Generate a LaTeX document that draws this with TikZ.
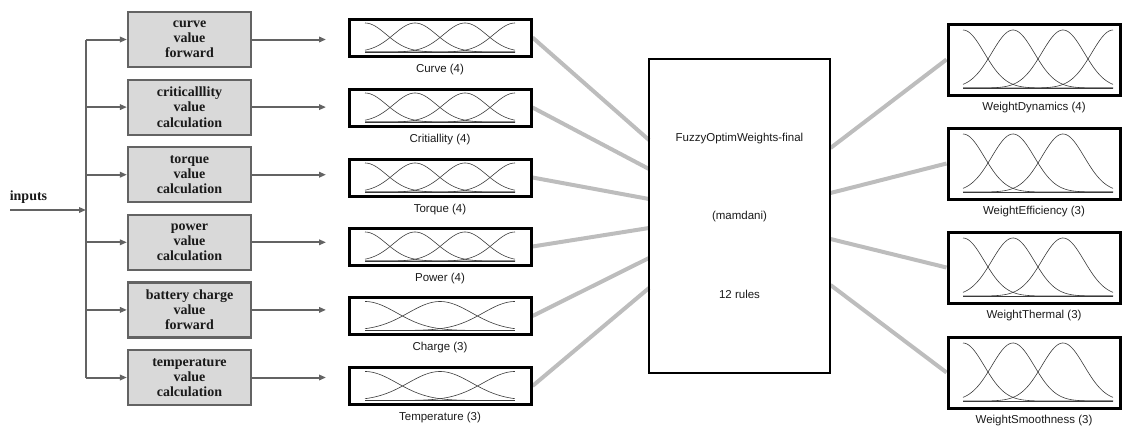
\documentclass[tikz,border=0pt]{standalone}
\usepackage{fontspec}
\setmainfont{Liberation Serif}
\newfontfamily\labelfont{Liberation Sans}
\usetikzlibrary{arrows.meta,calc,backgrounds}

\definecolor{procfill}{HTML}{D9D9D9}
\definecolor{edgegray}{HTML}{636363}
\definecolor{linkgray}{HTML}{BDBDBD}
\definecolor{curvegray}{HTML}{3A3A3A}
\definecolor{textdark}{HTML}{1A1A1A}

\tikzset{
  procbox/.style={draw=edgegray, fill=procfill, line width=2.2pt,
    minimum width=123pt, minimum height=55pt, inner sep=0pt,
    align=center, font=\fontsize{14}{15.2}\selectfont\bfseries, text=textdark},
  mfbox/.style={draw=black, line width=3pt, minimum width=182pt,
    minimum height=37pt, inner sep=0pt},
  outbox/.style={draw=black, line width=3pt, minimum width=172pt,
    minimum height=71pt, inner sep=0pt},
  fisbox/.style={draw=black, line width=2.6pt, minimum width=181pt,
    minimum height=314pt, inner sep=0pt},
  varlabel/.style={font=\labelfont\fontsize{11.5}{13}\selectfont, text=textdark, inner sep=0pt},
  feed/.style={draw=edgegray, line width=2pt, -{Triangle[length=7pt,width=5.5pt]}},
  trunk/.style={draw=edgegray, line width=2pt},
  link/.style={draw=linkgray, line width=4pt},
  mfline/.style={draw=curvegray, line width=0.6pt},
}

% Gaussian membership functions: #1 left x, #2 baseline y, #3 px per unit,
% #4 curve height, #5 domain end, #6 list of peak positions
\newcommand{\gausscurves}[6]{%
  \begin{scope}[shift={(#1,#2)}, xscale=#3, yscale=#4]
    \draw[mfline] (0,0) -- (#5,0);
    \foreach \pk in {#6}{
      \draw[mfline] plot[domain=0:#5, samples=90, smooth]
        (\x, {-exp(-((\x-\pk)^2)/0.3607)});
    }
  \end{scope}}

\begin{document}
\begin{tikzpicture}[x=1pt, y=-1pt]
\useasboundingbox (0,0) rectangle (1124,429);

% ---- input distribution ----
\node[font=\fontsize{14}{15}\selectfont\bfseries, text=textdark, inner sep=0pt] (inp) at (28.5,197.5) {inputs};
\coordinate (in0) at (10,210);
\coordinate (tin) at (86,210);
\draw[feed] (in0) -- (tin);

\foreach \i/\y in {1/39.5, 2/107.1, 3/174.7, 4/242.3, 5/309.9, 6/377.5}{
  \coordinate (t\i) at (86,\y);
  \coordinate (o\i) at (326,\y);
}
\draw[trunk] (t1) -- (t6);

\node[procbox] (g1) at (189.5,39.5)  {curve\\value\\forward};
\node[procbox] (g2) at (189.5,107.1) {criticalllity\\value\\calculation};
\node[procbox] (g3) at (189.5,174.7) {torque\\value\\calculation};
\node[procbox] (g4) at (189.5,242.3) {power\\value\\calculation};
\node[procbox] (g5) at (189.5,309.9) {battery charge\\value\\forward};
\node[procbox] (g6) at (189.5,377.5) {temperature\\value\\calculation};

\foreach \i in {1,...,6}{
  \draw[feed] (t\i) -- (g\i.west);
  \draw[feed] (g\i.east) -- (o\i);
}

% ---- input membership functions ----
\node[mfbox] (m1) at (440,37.5)  {};
\node[mfbox] (m2) at (440,107.5) {};
\node[mfbox] (m3) at (440,177.5) {};
\node[mfbox] (m4) at (440,246.5) {};
\node[mfbox] (m5) at (440,316)   {};
\node[mfbox] (m6) at (440,386)   {};

\gausscurves{365}{52}{50}{29}{3}{0,1,2,3}
\gausscurves{365}{122}{50}{29}{3}{0,1,2,3}
\gausscurves{365}{192}{50}{29}{3}{0,1,2,3}
\gausscurves{365}{261}{50}{29}{3}{0,1,2,3}
\gausscurves{365}{330.5}{75}{29}{2}{0,1,2}
\gausscurves{365}{400.5}{75}{29}{2}{0,1,2}

\node[varlabel] (lm1) at (440,70)  {Curve (4)};
\node[varlabel] (lm2) at (440,140) {Critiallity (4)};
\node[varlabel] (lm3) at (440,209.5) {Torque (4)};
\node[varlabel] (lm4) at (440,278.5) {Power (4)};
\node[varlabel] (lm5) at (440,348) {Charge (3)};
\node[varlabel] (lm6) at (440,417.5) {Temperature (3)};

% ---- inference system ----
\node[fisbox] (fis) at (739.5,216) {};
\node[varlabel] (fis1) at (739.5,139) {FuzzyOptimWeights-final};
\node[varlabel] (fis2) at (739.5,217) {(mamdani)};
\node[varlabel] (fis3) at (739.5,294) {12 rules};

\foreach \i/\y in {1/140, 2/169, 3/199, 4/228, 5/258, 6/288}{
  \coordinate (cin\i) at (649,\y);
}
\foreach \i/\y in {1/148, 2/193, 3/239, 4/285}{
  \coordinate (cout\i) at (830.5,\y);
}

% ---- output membership functions ----
\node[outbox] (r1) at (1034,59.5)  {};
\node[outbox] (r2) at (1034,163.5) {};
\node[outbox] (r3) at (1034,267.5) {};
\node[outbox] (r4) at (1034,372.5) {};

\gausscurves{963}{88}{50}{58}{3}{0,1,2,3}
\gausscurves{963}{192}{50}{58}{3}{0,1,2}
\gausscurves{963}{296}{50}{58}{3}{0,1,2}
\gausscurves{963}{401}{50}{58}{3}{0,1,2}

\node[varlabel] (lr1) at (1034,108) {WeightDynamics (4)};
\node[varlabel] (lr2) at (1034,212) {WeightEfficiency (3)};
\node[varlabel] (lr3) at (1034,316) {WeightThermal (3)};
\node[varlabel] (lr4) at (1034,420.5) {WeightSmoothness (3)};

% ---- links, kept behind the box borders ----
\begin{scope}[on background layer]
\foreach \i in {1,...,6}{
  \draw[link] (m\i.east) -- (cin\i);
}
\foreach \i in {1,...,4}{
  \draw[link] (cout\i) -- (r\i.west);
}
\end{scope}
\end{tikzpicture}
\end{document}
